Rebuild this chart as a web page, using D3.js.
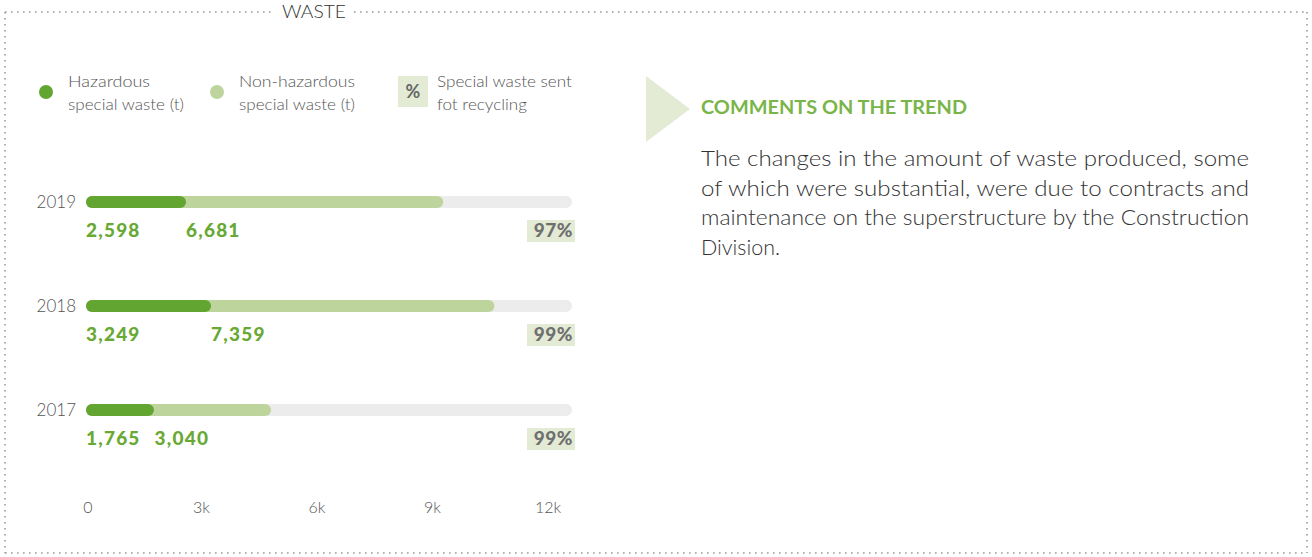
<!DOCTYPE html>
<html><head><meta charset="utf-8">
<script src="https://cdn.jsdelivr.net/npm/d3@7"></script>
<style>html,body{margin:0;padding:0;background:#fff;}svg{display:block;font-family:Lato,"Open Sans",sans-serif;}</style>
</head><body><svg id="c" width="1312" height="557"></svg>
<script>
const years = ["2019","2018","2017"];
const hazardous = [2598, 3249, 1765];
const nonHazardous = [6681, 7359, 3040];
const recycledPct = ["97%","99%","99%"];
const ticks = [0, 3000, 6000, 9000, 12000];
const tickLabels = ["0","3k","6k","9k","12k"];
const legendItems = [["Hazardous","special waste (t)"],["Non-hazardous","special waste (t)"],["Special waste sent","fot recycling"]];
const title = "WASTE";
const commentTitle = "COMMENTS ON THE TREND";
const commentLines = ["The changes in the amount of waste produced, some","of which were substantial, were due to contracts and","maintenance on the superstructure by the Construction","Division."];

const dark = "#62a531", light = "#bdd59c", track = "#ececec", pale = "#e3ebd5", grey = "#666";
const svg = d3.select("#c");

// dotted frame
const frame = svg.append("g").attr("stroke","#9a9a9a").attr("stroke-width",1.6).attr("stroke-dasharray","1.6 4.4").attr("fill","none");
[[5,12,274,12],[354,12,1307,12],[5,12,5,553],[1307,12,1307,553],[5,553,1307,553]].forEach(l=>
  frame.append("line").attr("x1",l[0]).attr("y1",l[1]).attr("x2",l[2]).attr("y2",l[3]));
svg.append("text").attr("x",314).attr("y",18).attr("text-anchor","middle").attr("font-size",18).attr("font-weight",300).attr("fill","#333")
  .attr("textLength",64).attr("lengthAdjust","spacingAndGlyphs").text(title);

// legend
const lg = svg.append("g");
lg.append("circle").attr("cx",46).attr("cy",92).attr("r",7).attr("fill",dark);
lg.append("circle").attr("cx",217).attr("cy",92).attr("r",7).attr("fill",light);
lg.append("rect").attr("x",398).attr("y",76).attr("width",30).attr("height",31).attr("fill",pale);
lg.append("text").attr("x",413).attr("y",98).attr("text-anchor","middle").attr("font-size",18).attr("font-weight",700).attr("fill",grey).text("%");
const lw = [[82,116],[116,116],[135,90]];
[68,239,437].forEach((x,i)=>{
  const t = lg.append("text").attr("font-size",16).attr("font-weight",300).attr("fill","#555");
  t.append("tspan").attr("x",x).attr("y",87).attr("textLength",lw[i][0]).attr("lengthAdjust","spacingAndGlyphs").text(legendItems[i][0]);
  t.append("tspan").attr("x",x).attr("y",110).attr("textLength",lw[i][1]).attr("lengthAdjust","spacingAndGlyphs").text(legendItems[i][1]);
});

// scales
const x = d3.scaleLinear().domain([0,12000]).range([86,548]);
const y = d3.scalePoint().domain(years).range([202,410]);
const h = 12, trackEnd = 572;

const g = svg.append("g");
const fmt = d3.format(",");
years.forEach((yr,i)=>{
  const cy = y(yr);
  g.append("rect").attr("x",x(0)).attr("y",cy-h/2).attr("width",trackEnd-x(0)).attr("height",h).attr("rx",6).attr("fill",track);
  g.append("rect").attr("x",x(0)).attr("y",cy-h/2).attr("width",x(hazardous[i]+nonHazardous[i])-x(0)).attr("height",h).attr("rx",6).attr("fill",light);
  g.append("rect").attr("x",x(0)).attr("y",cy-h/2).attr("width",x(hazardous[i])-x(0)).attr("height",h).attr("rx",6).attr("fill",dark);
  g.append("text").attr("x",76).attr("y",cy+6).attr("text-anchor","end").attr("font-size",17).attr("font-weight",300).attr("fill","#555").text(yr);
  const t1 = g.append("text").attr("x",x(0)).attr("y",cy+35).attr("font-size",19).attr("font-weight",900).attr("letter-spacing",1.2).attr("fill","#68a934").text(fmt(hazardous[i]));
  const end1 = x(0) + t1.node().getComputedTextLength();
  g.append("text").attr("x",Math.max(x(hazardous[i]), end1+14)).attr("y",cy+35).attr("font-size",19).attr("font-weight",900).attr("letter-spacing",1.2).attr("fill","#68a934").text(fmt(nonHazardous[i]));
  g.append("rect").attr("x",527).attr("y",cy+18).attr("width",48).attr("height",22).attr("fill",pale);
  g.append("text").attr("x",573).attr("y",cy+35).attr("text-anchor","end").attr("font-size",19).attr("font-weight",900).attr("letter-spacing",0.5).attr("fill","#6f6f6f").text(recycledPct[i]);
});

// axis labels
const ax = svg.append("g");
ticks.forEach((t,i)=>{
  ax.append("text").attr("x",x(t)+(i===0?2:0)).attr("y",513).attr("text-anchor","middle").attr("font-size",16).attr("font-weight",300).attr("fill","#555").text(tickLabels[i]);
});

// comments panel
svg.append("path").attr("d","M646,76 L690,109 L646,142 Z").attr("fill",pale);
svg.append("text").attr("x",701).attr("y",114).attr("font-size",18).attr("font-weight",700).attr("fill","#79b548").attr("textLength",266).attr("lengthAdjust","spacingAndGlyphs").text(commentTitle);
const widths = [548, 548, 548, 79];
commentLines.forEach((l,i)=>{
  svg.append("text").attr("x",701).attr("y",166+i*29.5).attr("font-size",21).attr("font-weight",300).attr("fill","#333")
    .attr("textLength",widths[i]).attr("lengthAdjust","spacingAndGlyphs").text(l);
});
</script></body></html>
